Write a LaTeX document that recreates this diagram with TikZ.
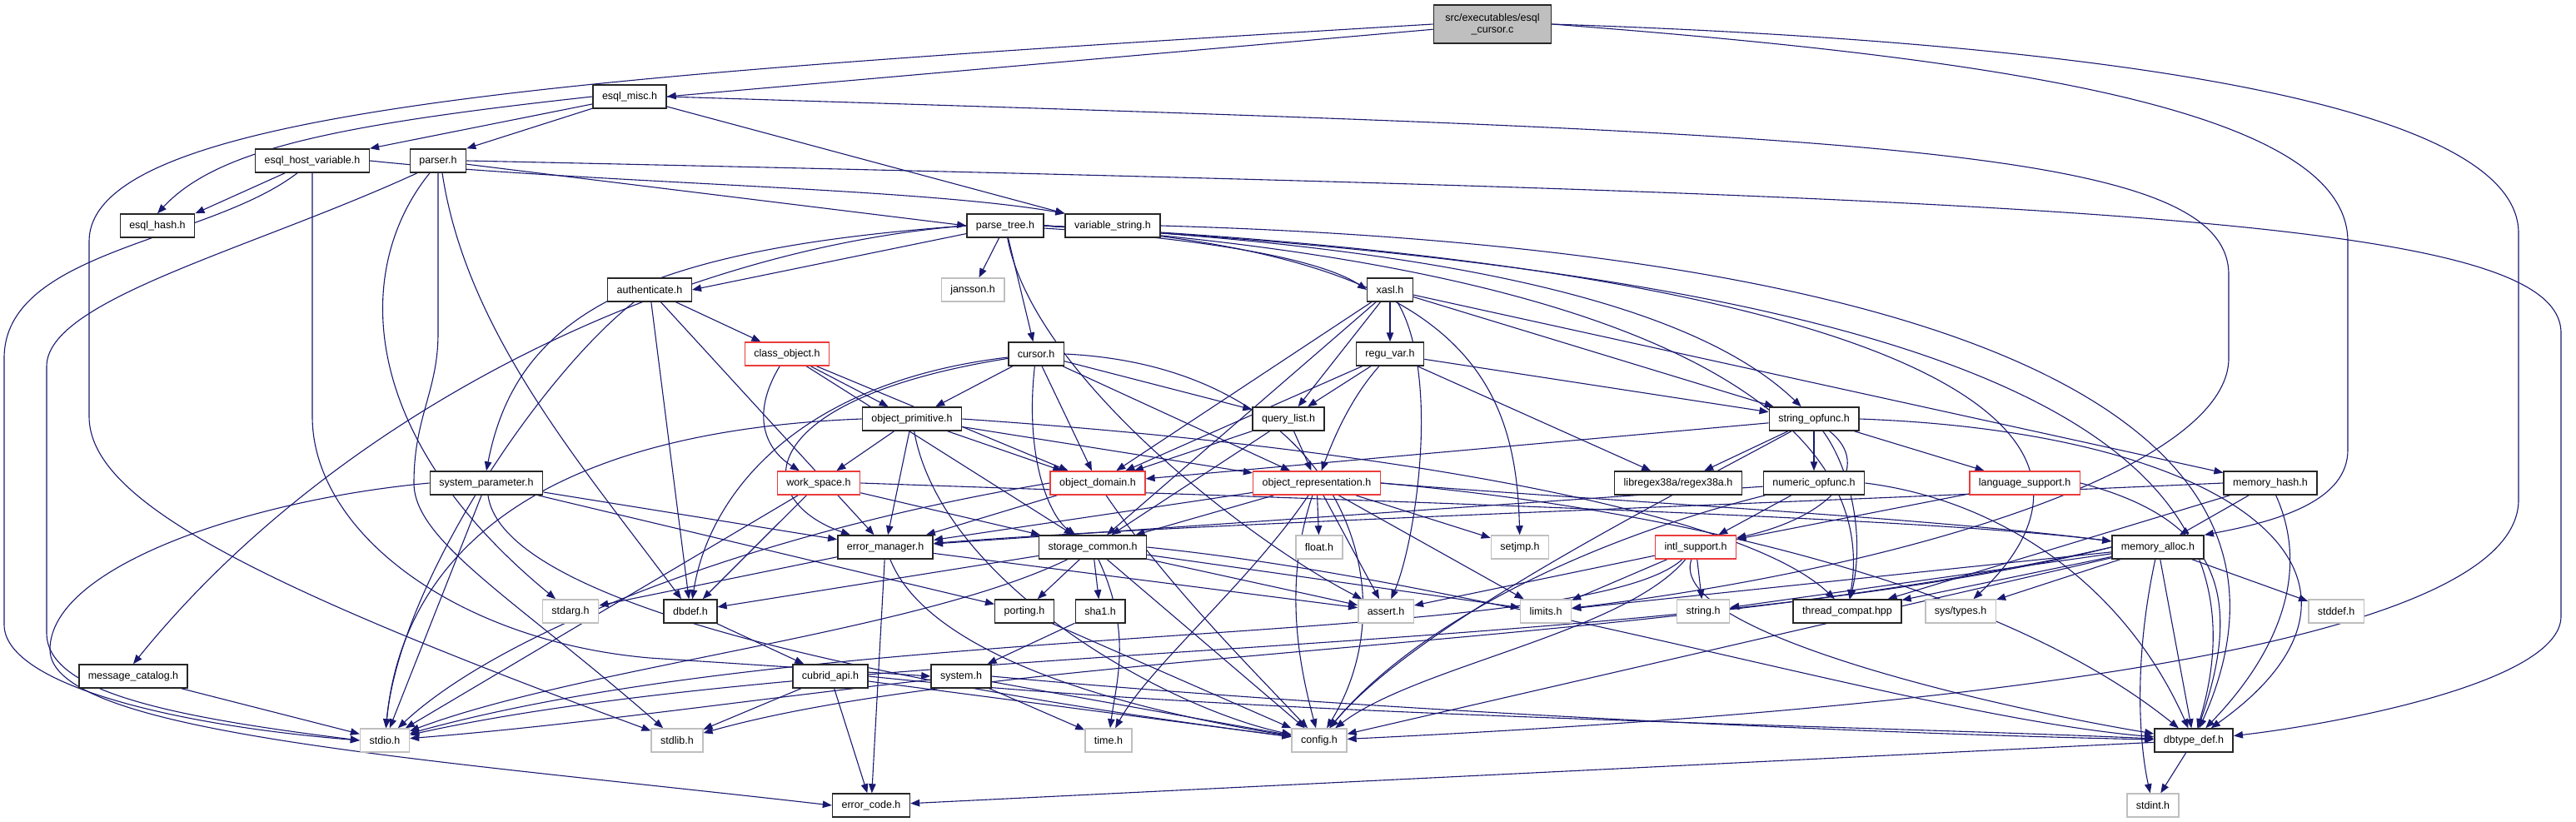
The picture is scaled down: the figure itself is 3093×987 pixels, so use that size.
\documentclass[tikz,border=0pt]{standalone}
\usepackage{fontspec}
\setmainfont{Liberation Sans}
\usetikzlibrary{arrows.meta, backgrounds}
\definecolor{edgeblue}{RGB}{25,25,112}
\definecolor{extgray}{RGB}{191,191,191}
\definecolor{truncred}{RGB}{235,60,60}

\begin{document}
\begin{tikzpicture}[
  x=1pt, y=-1pt,
  font=\fontsize{12.5}{14}\selectfont,
  hdr/.style={rectangle, draw=black!85, line width=1.5pt, fill=white,
              minimum height=28pt, inner xsep=11pt, inner ysep=0pt},
  sysh/.style={hdr, draw=extgray},
  trunc/.style={hdr, draw=truncred},
  root/.style={hdr, fill=extgray, align=center, minimum height=46pt, inner xsep=14pt},
  inc/.style={-{Triangle[length=11pt,width=8.5pt]}, edgeblue, line width=1.1pt}
]
\useasboundingbox (0,0) rectangle (3093,987);

% headers, row by row
\node[root] (cursorc) at (1792,29) {src/executables/esql\\\_cursor.c};
\node[hdr] (esqlmisc) at (756,116) {esql\_misc.h};
\node[hdr] (hostvar) at (375,193) {esql\_host\_variable.h};
\node[hdr] (parser) at (526,193) {parser.h};
\node[hdr] (esqlhash) at (189,271) {esql\_hash.h};
\node[hdr] (parsetree) at (1207,271) {parse\_tree.h};
\node[hdr] (varstring) at (1336,271) {variable\_string.h};
\node[sysh] (jansson) at (1168,348) {jansson.h};
\node[hdr] (authent) at (780,348) {authenticate.h};
\node[hdr] (xasl) at (1669,348) {xasl.h};
\node[trunc] (classobj) at (945,425) {class\_object.h};
\node[hdr] (cursor) at (1244,425) {cursor.h};
\node[hdr] (reguvar) at (1669,425) {regu\_var.h};
\node[hdr] (objprim) at (1095,503) {object\_primitive.h};
\node[hdr] (querylist) at (1547,503) {query\_list.h};
\node[hdr] (stropfunc) at (2178,503) {string\_opfunc.h};
\node[hdr] (sysparam) at (584,580) {system\_parameter.h};
\node[trunc] (workspace) at (983,580) {work\_space.h};
\node[trunc] (objdomain) at (1318,580) {object\_domain.h};
\node[trunc] (objrepr) at (1581,580) {object\_representation.h};
\node[hdr] (regex) at (2015,580) {libregex38a/regex38a.h};
\node[hdr] (numopfunc) at (2178,580) {numeric\_opfunc.h};
\node[trunc] (langsupp) at (2431,580) {language\_support.h};
\node[hdr] (memhash) at (2726,580) {memory\_hash.h};
\node[hdr] (errmgr) at (1063,657) {error\_manager.h};
\node[hdr] (storage) at (1312,657) {storage\_common.h};
\node[sysh] (floath) at (1584,657) {float.h};
\node[sysh] (setjmp) at (1825,657) {setjmp.h};
\node[trunc] (intl) at (2036,657) {intl\_support.h};
\node[hdr] (memalloc) at (2591,657) {memory\_alloc.h};
\node[sysh] (stdarg) at (685,734) {stdarg.h};
\node[hdr] (dbdef) at (829,734) {dbdef.h};
\node[hdr] (porting) at (1230,734) {porting.h};
\node[hdr] (shaone) at (1321,734) {sha1.h};
\node[sysh] (asserth) at (1664,734) {assert.h};
\node[sysh] (limits) at (1856,734) {limits.h};
\node[sysh] (stringh) at (2045,734) {string.h};
\node[hdr] (threadc) at (2218,734) {thread\_compat.hpp};
\node[sysh] (systypes) at (2354,734) {sys/types.h};
\node[sysh] (stddef) at (2805,734) {stddef.h};
\node[hdr] (msgcat) at (160,812) {message\_catalog.h};
\node[hdr] (cubridapi) at (997,812) {cubrid\_api.h};
\node[hdr] (systemh) at (1154,812) {system.h};
\node[sysh] (stdio) at (462,889) {stdio.h};
\node[sysh] (stdlib) at (813,889) {stdlib.h};
\node[sysh] (timeh) at (1331,889) {time.h};
\node[sysh] (config) at (1584,889) {config.h};
\node[hdr] (dbtypedef) at (2634,889) {dbtype\_def.h};
\node[hdr] (errcode) at (1046,967) {error\_code.h};
\node[sysh] (stdint) at (2585,967) {stdint.h};

\begin{scope}[on background layer]
% long routes round the outside
\draw[inc] (cursorc.west) .. controls (700,90) and (107,130) .. (107,290) -- (107,500)
  .. controls (107,600) and (300,700) .. (stdlib);
\draw[inc] (cursorc.east) .. controls (2500,50) and (3024,120) .. (3024,280) -- (3024,600)
  .. controls (3024,740) and (2600,840) .. (config);
\draw[inc] (cursorc.east) .. controls (2400,70) and (2819,130) .. (2819,290) -- (2819,540)
  .. controls (2819,600) and (2740,625) .. (memalloc.north east);
\draw[inc] (cursorc) -- (esqlmisc.east);
\draw[inc] (parser.east) .. controls (2500,235) and (3075,260) .. (3075,400) -- (3075,740)
  .. controls (3075,820) and (2800,870) .. (dbtypedef);
\draw[inc] (esqlmisc.east) .. controls (2200,160) and (2676,170) .. (2676,330) -- (2676,430)
  .. controls (2676,560) and (2300,680) .. (limits);
\draw[inc] ([xshift=-18pt]hostvar.south) .. controls (250,290) and (5,300) .. (5,430) -- (5,750)
  .. controls (5,820) and (200,870) .. (stdio.west);
\draw[inc] ([xshift=-25pt]parser.south) .. controls (300,300) and (56,360) .. (56,440) -- (56,760)
  .. controls (56,830) and (200,860) .. (stdio.west);
\draw[inc] (sysparam.west) .. controls (300,600) and (60,680) .. (60,780)
  .. controls (60,880) and (500,910) .. (errcode.west);
\draw[inc] (hostvar.south) -- (375,500) .. controls (375,640) and (550,770) .. (780,790) -- (systemh.west);

% esql side
\draw[inc] (esqlmisc.west) .. controls (400,150) and (260,180) .. (esqlhash.north);
\draw[inc] (esqlmisc) -- (hostvar.north east);
\draw[inc] (esqlmisc) -- (parser.north east);
\draw[inc] (esqlmisc) -- (varstring.north west);
\draw[inc] (hostvar) -- (esqlhash.north east);
\draw[inc] (hostvar.east) .. controls (700,220) and (1100,225) .. (varstring.north west);
\draw[inc] (parser) -- (parsetree.west);
\draw[inc] (parser.south) -- (526,400) .. controls (526,470) and (497,500) .. (497,580)
  .. controls (497,650) and (620,720) .. (stdlib);
\draw[inc] ([xshift=-10pt]parser.south) .. controls (425,320) and (425,520) .. (stdarg);
\draw[inc] ([xshift=5pt]parser.south) .. controls (560,400) and (700,560) .. (dbdef);
\draw[inc] (varstring.east) .. controls (2400,300) and (2800,520) .. (dbtypedef);

% parse tree
\draw[inc] (parsetree) -- (jansson);
\draw[inc] (parsetree) -- (cursor);
\draw[inc] (parsetree) .. controls (1500,290) and (1600,320) .. (xasl.west);
\draw[inc] (parsetree) -- (authent.east);
\draw[inc] (parsetree.west) .. controls (760,300) and (620,380) .. (sysparam.north);
\draw[inc] (parsetree.west) .. controls (800,300) and (400,500) .. (msgcat.north);
\draw[inc] (parsetree.east) .. controls (1800,300) and (2050,380) .. (stropfunc);
\draw[inc] (parsetree.east) .. controls (1750,300) and (1820,450) .. (setjmp);
\draw[inc] (parsetree) .. controls (1240,450) and (1500,650) .. (asserth);
\draw[inc] (parsetree.east) .. controls (2300,330) and (2750,500) .. (dbtypedef);
\draw[inc] (parsetree.east) .. controls (2250,320) and (2600,500) .. (systypes);
\draw[inc] (parsetree.east) .. controls (2100,330) and (2250,550) .. (threadc);

% authenticate, class object, cursor
\draw[inc] (authent) -- (classobj);
\draw[inc] (authent) -- (errmgr);
\draw[inc] (authent) -- (dbdef);
\draw[inc] (authent) .. controls (650,450) and (480,700) .. (stdio);
\draw[inc] (classobj) -- (objprim);
\draw[inc] (classobj) .. controls (900,500) and (920,540) .. (workspace);
\draw[inc] (classobj) -- (objdomain);
\draw[inc] (classobj) -- (storage);
\draw[inc] (cursor) -- (objprim);
\draw[inc] (cursor) -- (querylist);
\draw[inc] (cursor) -- (objrepr);
\draw[inc] (cursor) -- (objdomain);
\draw[inc] (cursor) .. controls (1230,550) and (1260,620) .. (storage);
\draw[inc] (cursor) .. controls (900,480) and (900,600) .. (errmgr);
\draw[inc] (cursor) .. controls (950,460) and (850,600) .. (dbdef);
\draw[inc] (cursor.east) .. controls (1600,440) and (1700,700) .. (config);

% xasl, regu var, query list
\draw[inc] (xasl) -- (reguvar);
\draw[inc] (xasl) -- (querylist);
\draw[inc] (xasl) -- (stropfunc);
\draw[inc] (xasl) -- (memhash);
\draw[inc] (xasl) -- (objdomain);
\draw[inc] (xasl) -- (storage);
\draw[inc] (xasl) .. controls (1730,450) and (1700,650) .. (asserth);
\draw[inc] (reguvar) -- (querylist);
\draw[inc] (reguvar) -- (stropfunc);
\draw[inc] (reguvar) -- (regex);
\draw[inc] (reguvar) -- (objdomain);
\draw[inc] (reguvar) .. controls (1620,480) and (1600,530) .. (objrepr);
\draw[inc] (querylist) -- (objdomain);
\draw[inc] (querylist) -- (objrepr);
\draw[inc] (querylist) -- (storage);

% object layer
\draw[inc] (objprim) -- (workspace);
\draw[inc] (objprim) -- (objdomain);
\draw[inc] (objprim) -- (objrepr);
\draw[inc] (objprim) -- (errmgr);
\draw[inc] (objprim.east) .. controls (1700,540) and (2100,620) .. (threadc);
\draw[inc] (objprim) .. controls (1130,700) and (1400,850) .. (config);
\draw[inc] (objprim.west) .. controls (600,520) and (480,700) .. (stdio);
\draw[inc] (workspace) -- (storage);
\draw[inc] (workspace.east) .. controls (1600,600) and (2300,620) .. (memalloc);
\draw[inc] (workspace) -- (stdio);
\draw[inc] (workspace) -- (dbdef);
\draw[inc] (objdomain) -- (errmgr);
\draw[inc] (objdomain) .. controls (1400,700) and (1500,800) .. (config);
\draw[inc] (objdomain.west) .. controls (900,640) and (600,760) .. (stdio);
\draw[inc] (objrepr) -- (floath);
\draw[inc] (objrepr) -- (setjmp);
\draw[inc] (objrepr) -- (asserth);
\draw[inc] (objrepr) -- (limits);
\draw[inc] (objrepr) -- (storage);
\draw[inc] (objrepr) -- (errmgr);
\draw[inc] (objrepr) .. controls (1540,700) and (1560,800) .. (config);
\draw[inc] (objrepr.east) .. controls (2000,610) and (2400,700) .. (dbtypedef);
\draw[inc] (objrepr.east) .. controls (1900,600) and (2300,620) .. (memalloc);
\draw[inc] (objrepr) .. controls (1500,700) and (1380,800) .. (timeh);

% string and numeric functions
\draw[inc] (stropfunc) -- (objdomain);
\draw[inc] (stropfunc) -- (regex);
\draw[inc] (stropfunc) -- (numopfunc);
\draw[inc] (stropfunc) -- (langsupp);
\draw[inc] (stropfunc) .. controls (2250,560) and (2200,620) .. (intl);
\draw[inc] (stropfunc) .. controls (2220,560) and (2240,640) .. (threadc);
\draw[inc] (stropfunc.east) .. controls (2700,520) and (2900,700) .. (dbtypedef);
\draw[inc] (stropfunc) .. controls (2000,600) and (1700,750) .. (config);
\draw[inc] (numopfunc) -- (intl);
\draw[inc] (numopfunc) .. controls (1900,650) and (1700,750) .. (config);
\draw[inc] (numopfunc.east) .. controls (2400,600) and (2550,700) .. (dbtypedef);
\draw[inc] (numopfunc) -- (errmgr);
\draw[inc] (langsupp) -- (intl);
\draw[inc] (langsupp.east) .. controls (2650,620) and (2700,700) .. (dbtypedef);
\draw[inc] (memhash) -- (memalloc);
\draw[inc] (memhash) -- (threadc);
\draw[inc] (memhash) .. controls (2780,700) and (2720,800) .. (dbtypedef);
\draw[inc] (memhash.west) .. controls (2000,610) and (1400,630) .. (errmgr);

% memory alloc and intl support
\draw[inc] (memalloc) -- (systypes);
\draw[inc] (memalloc) -- (stddef);
\draw[inc] (memalloc) -- (dbtypedef);
\draw[inc] (memalloc) .. controls (2560,800) and (2570,900) .. (stdint);
\draw[inc] (memalloc) -- (config);
\draw[inc] (memalloc) -- (limits);
\draw[inc] (memalloc) -- (stringh);
\draw[inc] (memalloc) -- (threadc);
\draw[inc] (memalloc.west) .. controls (2000,780) and (1200,780) .. (stdlib);
\draw[inc] (memalloc.west) .. controls (2000,790) and (1000,770) .. (stdio);
\draw[inc] (intl) -- (asserth);
\draw[inc] (intl) -- (limits);
\draw[inc] (intl) -- (stringh);
\draw[inc] (intl) .. controls (1900,780) and (1000,740) .. (stdio);
\draw[inc] (intl) .. controls (2000,760) and (2400,850) .. (dbtypedef);
\draw[inc] (intl) .. controls (1950,760) and (1700,800) .. (config);

% system parameter, error manager, storage
\draw[inc] (sysparam) -- (errmgr);
\draw[inc] (sysparam) -- (porting);
\draw[inc] (sysparam) -- (stdio);
\draw[inc] (sysparam) .. controls (600,700) and (900,800) .. (config);
\draw[inc] (errmgr) -- (stdarg);
\draw[inc] (errmgr) -- (errcode);
\draw[inc] (errmgr) .. controls (1120,800) and (1400,860) .. (config);
\draw[inc] (errmgr) -- (asserth);
\draw[inc] (storage) -- (dbdef);
\draw[inc] (storage) -- (porting);
\draw[inc] (storage) -- (shaone);
\draw[inc] (storage) .. controls (1360,760) and (1340,820) .. (timeh);
\draw[inc] (storage) -- (asserth);
\draw[inc] (storage) -- (limits);
\draw[inc] (storage) -- (config);
\draw[inc] (storage.east) .. controls (1800,700) and (2300,860) .. (dbtypedef);
\draw[inc] (storage) .. controls (1100,760) and (700,800) .. (stdio);

% lower layer
\draw[inc] (dbdef) -- (cubridapi);
\draw[inc] (cubridapi) -- (stdlib);
\draw[inc] (cubridapi) -- (errcode);
\draw[inc] (cubridapi) -- (config);
\draw[inc] (cubridapi.east) .. controls (1500,860) and (2200,870) .. (dbtypedef);
\draw[inc] (porting) -- (config);
\draw[inc] (shaone) -- (systemh);
\draw[inc] (systemh) .. controls (900,840) and (700,870) .. (stdio);
\draw[inc] (systemh) -- (timeh);
\draw[inc] (systemh) -- (config);
\draw[inc] (systemh.east) .. controls (1600,850) and (2200,880) .. (dbtypedef);
\draw[inc] (dbtypedef) -- (errcode);
\draw[inc] (dbtypedef) -- (stdint);
\draw[inc] (msgcat) -- (stdio);
\end{scope}
\end{tikzpicture}
\end{document}
